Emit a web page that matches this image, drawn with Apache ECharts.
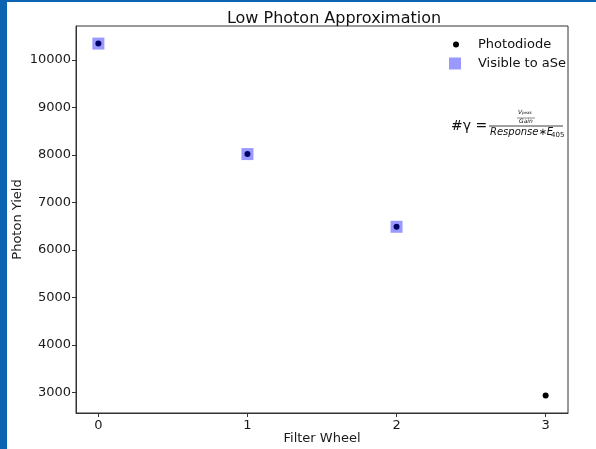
<!DOCTYPE html>
<html>
<head>
<meta charset="utf-8">
<script src="https://cdn.jsdelivr.net/npm/echarts@6/dist/echarts.min.js"></script>
<style>
html,body{margin:0;padding:0;background:#fff;}
#wrap{position:relative;width:596px;height:449px;overflow:hidden;background:#fff;}
#bar{position:absolute;left:0;top:0;width:7px;height:449px;background:#0b63b2;}
#topbar{position:absolute;left:0;top:0;width:596px;height:2px;background:#0b63b2;}
#chart{position:absolute;left:0;top:0;width:596px;height:449px;}
</style>
</head>
<body>
<div id="wrap"><div id="chart"></div><div id="bar"></div><div id="topbar"></div></div>
<script>
const filterWheel = [0, 1, 2, 3];
const photodiode = [10346, 8020, 6490, 2940];
const visibleWheel = [0, 1, 2];
const visibleToASe = [10346, 8020, 6490];
const xTicks = [0, 1, 2, 3];
const yTicks = [3000, 4000, 5000, 6000, 7000, 8000, 9000, 10000];

const FONT = 'DejaVu Sans';
const chart = echarts.init(document.getElementById('chart'), null, {renderer: 'canvas'});
const axisCommon = {
  axisLine: {show: true, onZero: false, lineStyle: {color: '#333', width: 1}},
  axisTick: {show: true, inside: false, length: 4, lineStyle: {color: '#333'}},
  splitLine: {show: false},
  nameMoveOverlap: false,
  axisLabel: {color: '#1a1a1a', fontFamily: FONT, fontSize: 13},
  nameTextStyle: {color: '#1a1a1a', fontFamily: FONT, fontSize: 13}
};
chart.setOption({
  animation: false,
  backgroundColor: '#fff',
  title: {
    text: 'Low Photon Approximation', left: 329, top: 6, textAlign: 'center',
    textStyle: {fontFamily: FONT, fontSize: 16, fontWeight: 'normal', color: '#111'}
  },
  grid: {left: 76, top: 26, right: 28, bottom: 36, containLabel: false, outerBoundsMode: 'none',
         show: true, borderColor: '#333', borderWidth: 1, backgroundColor: 'transparent'},
  xAxis: Object.assign({}, axisCommon, {
    type: 'value', min: -0.15, max: 3.15,
    name: 'Filter Wheel', nameLocation: 'middle', nameGap: 19,
    axisTick: Object.assign({}, axisCommon.axisTick, {customValues: xTicks}),
    axisLabel: Object.assign({}, axisCommon.axisLabel, {customValues: xTicks, margin: 6})
  }),
  yAxis: Object.assign({}, axisCommon, {
    type: 'value', min: 2570, max: 10716,
    name: 'Photon Yield', nameLocation: 'middle', nameGap: 52,
    axisTick: Object.assign({}, axisCommon.axisTick, {customValues: yTicks}),
    axisLabel: Object.assign({}, axisCommon.axisLabel, {customValues: yTicks, margin: 5,
      formatter: v => String(Math.round(v))})
  }),
  legend: [
    {data: ['Photodiode'], left: 448, top: 33, itemWidth: 6, itemHeight: 6, icon: 'circle',
     textStyle: {fontFamily: FONT, fontSize: 13, color: '#111', padding: [0, 0, 0, 14]}},
    {data: ['Visible to aSe'], left: 444, top: 52, itemWidth: 12, itemHeight: 12, icon: 'rect',
     textStyle: {fontFamily: FONT, fontSize: 13, color: '#111', padding: [0, 0, 0, 12]}}
  ],
  series: [
    {name: 'Photodiode', type: 'scatter', symbol: 'circle', symbolSize: 6,
     itemStyle: {color: '#000', opacity: 1}, z: 2,
     data: filterWheel.map((x, i) => [x, photodiode[i]])},
    {name: 'Visible to aSe', type: 'scatter', symbol: 'rect', symbolSize: 12,
     itemStyle: {color: 'rgba(0,0,255,0.5)'}, z: 3,
     data: visibleWheel.map((x, i) => [x, visibleToASe[i]])}
  ],
  graphic: [
    {type: 'text', left: 451, top: 119, style: {text: '#γ =', fontFamily: FONT, fontSize: 14, fill: '#111'}},
    {type: 'text', left: 518, top: 109, style: {text: 'V', fontFamily: FONT, fontSize: 6, fontStyle: 'italic', fill: '#111'}},
    {type: 'text', left: 522, top: 111, style: {text: 'peak', fontFamily: FONT, fontSize: 4, fill: '#111'}},
    {type: 'line', shape: {x1: 517, y1: 118, x2: 535, y2: 118}, style: {stroke: '#111', lineWidth: 0.5}},
    {type: 'text', left: 519, top: 118, style: {text: 'Gain', fontFamily: FONT, fontSize: 6, fontStyle: 'italic', fill: '#111'}},
    {type: 'line', shape: {x1: 489, y1: 126, x2: 563, y2: 126}, style: {stroke: '#111', lineWidth: 0.8}},
    {type: 'text', left: 490, top: 127, style: {text: 'Response∗E', fontFamily: FONT, fontSize: 10, fontStyle: 'italic', fill: '#111'}},
    {type: 'text', left: 551, top: 132, style: {text: '405', fontFamily: FONT, fontSize: 7, fill: '#111'}}
  ]
});
</script>
</body>
</html>
